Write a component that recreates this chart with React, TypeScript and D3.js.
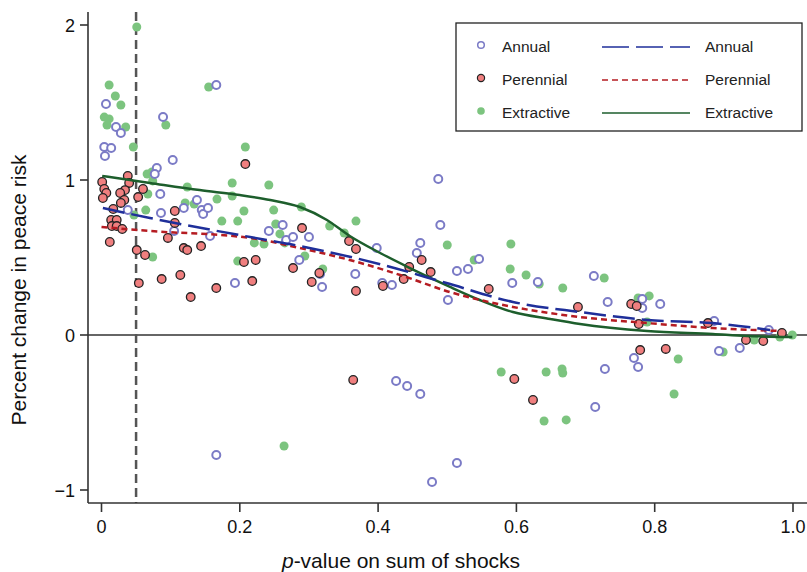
import React from "react";
import * as d3 from "d3";

// ---- Data ----
const annualX = [0.0065,0.021,0.028,0.004,0.014,0.005,0.089,0.103,0.080,0.077,0.085,0.166,0.038,0.086,0.105,0.119,0.138,0.145,0.147,0.154,0.157,0.193,0.242,0.262,0.267,0.277,0.300,0.286,0.319,0.316,0.367,0.398,0.406,0.420,0.456,0.461,0.487,0.490,0.501,0.514,0.530,0.546,0.594,0.631,0.712,0.732,0.782,0.782,0.808,0.886,0.965,0.770,0.893,0.923,0.426,0.442,0.461,0.478,0.514,0.714,0.728,0.776,0.166];
const annualY = [1.490,1.342,1.303,1.213,1.206,1.155,1.406,1.129,1.077,1.039,0.910,1.613,0.806,0.787,0.671,0.819,0.871,0.806,0.781,0.819,0.639,0.335,0.671,0.710,0.613,0.632,0.632,0.484,0.310,0.394,0.394,0.561,0.335,0.323,0.529,0.594,1.006,0.710,0.226,0.413,0.426,0.490,0.335,0.342,0.381,0.213,0.232,0.174,0.200,0.090,0.032,-0.148,-0.103,-0.084,-0.297,-0.329,-0.381,-0.948,-0.826,-0.465,-0.219,-0.206,-0.774];

const perennialX = [0.001,0.004,0.007,0.002,0.038,0.040,0.034,0.027,0.033,0.028,0.017,0.014,0.022,0.015,0.022,0.030,0.012,0.053,0.060,0.051,0.063,0.054,0.087,0.106,0.106,0.096,0.114,0.119,0.124,0.129,0.144,0.166,0.208,0.206,0.223,0.218,0.277,0.290,0.315,0.304,0.358,0.368,0.368,0.407,0.437,0.445,0.463,0.476,0.560,0.689,0.766,0.774,0.777,0.877,0.932,0.957,0.984,0.779,0.816,0.364,0.597,0.624];
const perennialY = [0.987,0.942,0.916,0.884,1.026,0.981,0.935,0.916,0.871,0.852,0.813,0.742,0.742,0.703,0.703,0.684,0.600,0.890,0.942,0.548,0.516,0.335,0.361,0.800,0.723,0.626,0.387,0.561,0.548,0.245,0.574,0.303,1.103,0.471,0.484,0.348,0.432,0.690,0.400,0.342,0.606,0.555,0.284,0.316,0.361,0.439,0.484,0.406,0.297,0.181,0.200,0.187,0.071,0.077,-0.032,-0.039,0.013,-0.097,-0.090,-0.290,-0.284,-0.419];

const extractiveX = [0.051,0.011,0.020,0.028,0.004,0.011,0.008,0.035,0.046,0.155,0.093,0.208,0.066,0.073,0.074,0.067,0.047,0.064,0.074,0.124,0.121,0.134,0.167,0.189,0.189,0.174,0.197,0.206,0.197,0.242,0.249,0.252,0.258,0.265,0.221,0.235,0.289,0.294,0.320,0.330,0.351,0.368,0.500,0.539,0.592,0.591,0.614,0.633,0.667,0.727,0.776,0.792,0.789,0.944,0.981,0.999,0.899,0.834,0.578,0.643,0.666,0.667,0.640,0.672,0.828,0.264];
const extractiveY = [1.987,1.613,1.542,1.484,1.406,1.394,1.355,1.342,1.213,1.600,1.355,1.213,1.039,1.052,0.994,0.910,0.774,0.806,0.503,0.955,0.852,0.845,0.877,0.981,0.897,0.735,0.735,0.800,0.477,0.968,0.806,0.716,0.652,0.594,0.594,0.587,0.826,0.510,0.426,0.703,0.658,0.735,0.581,0.484,0.587,0.426,0.387,0.329,0.303,0.368,0.239,0.252,0.084,-0.032,-0.013,0.000,-0.110,-0.155,-0.239,-0.239,-0.219,-0.245,-0.555,-0.548,-0.381,-0.716];

// Smoothed fit curves
const annualFitX = [0.002,0.070,0.215,0.287,0.407,0.499,0.595,0.692,0.789,0.884,0.967];
const annualFitY = [0.819,0.755,0.632,0.574,0.452,0.335,0.213,0.148,0.097,0.077,0.032];
const perennialFitX = [0.000,0.070,0.215,0.287,0.359,0.432,0.504,0.595,0.692,0.789,0.884,0.981];
const perennialFitY = [0.697,0.671,0.626,0.561,0.484,0.387,0.277,0.181,0.116,0.077,0.045,0.026];
const extractiveFitX = [0.001,0.070,0.142,0.200,0.244,0.287,0.326,0.359,0.403,0.446,0.504,0.547,0.595,0.649,0.692,0.789,0.884,0.933,0.999];
const extractiveFitY = [1.026,0.981,0.935,0.903,0.871,0.826,0.742,0.639,0.529,0.432,0.310,0.226,0.148,0.103,0.071,0.026,0.006,-0.006,-0.013];

const xTicks = [0, 0.2, 0.4, 0.6, 0.8, 1.0];
const xTickLabels = ["0", "0.2", "0.4", "0.6", "0.8", "1.0"];
const yTicks = [-1, 0, 1, 2];
const yTickLabels = ["\u22121", "0", "1", "2"];
const threshold = 0.05;

const legendLabels = ["Annual", "Perennial", "Extractive"];

const W = 807, H = 572;
const FONT = "'Liberation Sans', Arial, Helvetica, sans-serif";

const C = {
  annualPt: "#7b7bc6",
  perPt: "#f07f7f",
  extPt: "#7cc47f",
  annualLine: "#1f2f9a",
  perLine: "#b51c22",
  extLine: "#1d5e2c",
  axis: "#333",
  ref: "#555",
};

export default function App() {
  const x = d3.scaleLinear().domain([0, 1]).range([101.5, 793]);
  const y = d3.scaleLinear().domain([-1, 2]).range([490, 25]);
  const plotLeft = 88, plotBottom = 503, plotTop = 12, plotRight = 807;

  const line = d3.line<[number, number]>().x(d => x(d[0])).y(d => y(d[1])).curve(d3.curveMonotoneX);
  const zip = (a: number[], b: number[]) => a.map((v, i) => [v, b[i]] as [number, number]);

  const annual = zip(annualX, annualY);
  const perennial = zip(perennialX, perennialY);
  const extractive = zip(extractiveX, extractiveY);

  const lg = { x: 456, y: 23, w: 346, h: 108 };
  const rowY = [48, 81, 114];

  return (
    <svg width={W} height={H} style={{ position: "absolute", left: 0, top: 0, background: "#fff" }} fontFamily={FONT}>
      {/* zero line */}
      <line x1={plotLeft} x2={plotRight} y1={y(0)} y2={y(0)} stroke="#666" strokeWidth={2} />
      {/* threshold line */}
      <line x1={x(threshold)} x2={x(threshold)} y1={plotTop} y2={plotBottom} stroke={C.ref} strokeWidth={2.5} strokeDasharray="9 5" />

      {/* points */}
      {extractive.map((d, i) => (
        <circle key={"e" + i} cx={x(d[0])} cy={y(d[1])} r={4.5} fill={C.extPt} />
      ))}
      {annual.map((d, i) => (
        <circle key={"a" + i} cx={x(d[0])} cy={y(d[1])} r={4} fill="#fff" stroke={C.annualPt} strokeWidth={2} />
      ))}
      {perennial.map((d, i) => (
        <circle key={"p" + i} cx={x(d[0])} cy={y(d[1])} r={4.3} fill={C.perPt} stroke="#222" strokeWidth={1.3} />
      ))}

      {/* fit curves */}
      <path d={line(zip(extractiveFitX, extractiveFitY)) || ""} fill="none" stroke={C.extLine} strokeWidth={2.5} />
      <path d={line(zip(perennialFitX, perennialFitY)) || ""} fill="none" stroke={C.perLine} strokeWidth={2.5} strokeDasharray="6 4" />
      <path d={line(zip(annualFitX, annualFitY)) || ""} fill="none" stroke={C.annualLine} strokeWidth={2.5} strokeDasharray="22 7" />

      {/* axes */}
      <line x1={plotLeft} x2={plotLeft} y1={plotTop} y2={plotBottom} stroke={C.axis} strokeWidth={1.6} />
      <line x1={plotLeft} x2={plotRight} y1={plotBottom} y2={plotBottom} stroke={C.axis} strokeWidth={1.6} />
      {yTicks.map((t, i) => (
        <g key={"yt" + i}>
          <line x1={plotLeft - 8} x2={plotLeft} y1={y(t)} y2={y(t)} stroke={C.axis} strokeWidth={1.6} />
          <text x={plotLeft - 13} y={y(t) + 6.5} textAnchor="end" fontSize={18} fill="#111">{yTickLabels[i]}</text>
        </g>
      ))}
      {xTicks.map((t, i) => (
        <g key={"xt" + i}>
          <line x1={x(t)} x2={x(t)} y1={plotBottom} y2={plotBottom + 9} stroke={C.axis} strokeWidth={1.6} />
          <text x={x(t)} y={533} textAnchor="middle" fontSize={18} fill="#111">{xTickLabels[i]}</text>
        </g>
      ))}
      <text transform={`translate(26,290) rotate(-90)`} textAnchor="middle" fontSize={21} fill="#111">Percent change in peace risk</text>
      <text x={401} y={568} textAnchor="middle" fontSize={21} fill="#111">
        <tspan fontStyle="italic">p</tspan>-value on sum of shocks
      </text>

      {/* legend */}
      <rect x={lg.x} y={lg.y} width={lg.w} height={lg.h} fill="#fff" stroke="#222" strokeWidth={1.3} />
      {legendLabels.map((lab, i) => (
        <g key={"lg" + i}>
          {i === 0 && <circle cx={481} cy={rowY[i] - 3} r={3.3} fill="#fff" stroke={C.annualPt} strokeWidth={1.5} />}
          {i === 1 && <circle cx={481} cy={rowY[i] - 3} r={3.6} fill={C.perPt} stroke="#222" strokeWidth={1.2} />}
          {i === 2 && <circle cx={481} cy={rowY[i] - 3} r={3.8} fill={C.extPt} />}
          <text x={502} y={rowY[i] + 4} fontSize={15.5} fill="#222">{lab}</text>
          <line x1={602} x2={690} y1={rowY[i] - 1} y2={rowY[i] - 1}
            stroke={i === 0 ? C.annualLine : i === 1 ? C.perLine : C.extLine}
            strokeWidth={1.5}
            strokeDasharray={i === 0 ? "27 7" : i === 1 ? "6 4" : undefined} />
          <text x={705} y={rowY[i] + 4} fontSize={15.5} fill="#222">{lab}</text>
        </g>
      ))}
    </svg>
  );
}
